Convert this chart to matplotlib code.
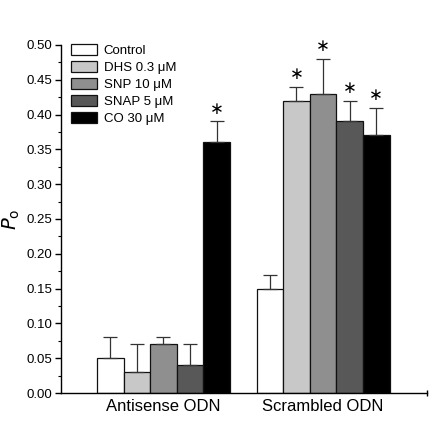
import numpy as np
import matplotlib.pyplot as plt

plt.rcParams['font.family'] = ['Liberation Sans', 'DejaVu Sans']

groups = ["Antisense ODN", "Scrambled ODN"]
treatments = ["Control", "DHS 0.3 \u03bcM", "SNP 10 \u03bcM", "SNAP 5 \u03bcM", "CO 30 \u03bcM"]
colors = ["#ffffff", "#c8c8c8", "#8f8f8f", "#585858", "#000000"]

antisense_vals = [0.05, 0.03, 0.07, 0.04, 0.36]
antisense_err = [0.03, 0.04, 0.01, 0.03, 0.03]
scrambled_vals = [0.15, 0.42, 0.43, 0.39, 0.37]
scrambled_err = [0.02, 0.02, 0.05, 0.03, 0.04]
antisense_sig = [False, False, False, False, True]
scrambled_sig = [False, True, True, True, True]

vals = [antisense_vals, scrambled_vals]
errs = [antisense_err, scrambled_err]
sigs = [antisense_sig, scrambled_sig]

fig = plt.figure(figsize=(4.36, 4.36), dpi=100)
ax = fig.add_axes([0.140, 0.0986, 0.839, 0.7984])

centers = np.array([0.0, 6.0])
width = 1.0
for i, name in enumerate(treatments):
    xs = centers + (i - 2) * width
    ys = [vals[g][i] for g in range(2)]
    es = [errs[g][i] for g in range(2)]
    ax.bar(xs, ys, width=width, color=colors[i], edgecolor="#111111",
           linewidth=0.9, label=name, zorder=2)
    ax.errorbar(xs, ys, yerr=[np.zeros(2), es], fmt="none", ecolor="#333333",
                elinewidth=0.9, capsize=4.7, capthick=0.9, zorder=3)
    for g in range(2):
        if sigs[g][i]:
            # asterisk above the error bar
            ax.annotate("\u2217", (xs[g], ys[g] + es[g]), xytext=(0, 9),
                        textcoords="offset points", ha="center", va="center",
                        fontsize=12, family="DejaVu Sans")

ax.set_xlim(-3.85, 9.9)
ax.set_ylim(0, 0.5)
ax.spines["top"].set_visible(False)
ax.spines["right"].set_visible(False)
ax.spines["left"].set_linewidth(1.0)
ax.spines["bottom"].set_linewidth(1.0)

ax.set_yticks(np.arange(0, 0.51, 0.05))
ax.set_yticks(np.arange(0, 0.51, 0.025), minor=True)
ax.set_yticklabels([f"{v:.2f}" for v in np.arange(0, 0.51, 0.05)])
ax.tick_params(axis="y", which="major", length=4.5, width=1, labelsize=9.5, pad=2)
ax.tick_params(axis="y", which="minor", length=2.5, width=0.8)

ax.set_xticks(centers)
ax.set_xticklabels(groups)
ax.set_xticks([9.9], minor=True)
ax.tick_params(axis="x", which="major", length=0, labelsize=12, pad=4)
ax.tick_params(axis="x", which="minor", length=5, width=1, direction="inout")

ax.set_ylabel(r"$P_\mathrm{o}$", fontsize=14, labelpad=3)

ax.legend(loc="upper left", bbox_to_anchor=(0.012, 1.017), frameon=False,
          fontsize=9.5, handlelength=2.0, handleheight=0.9, labelspacing=0.3,
          handletextpad=0.5, borderaxespad=0)

fig.savefig("out.png", dpi=100)
